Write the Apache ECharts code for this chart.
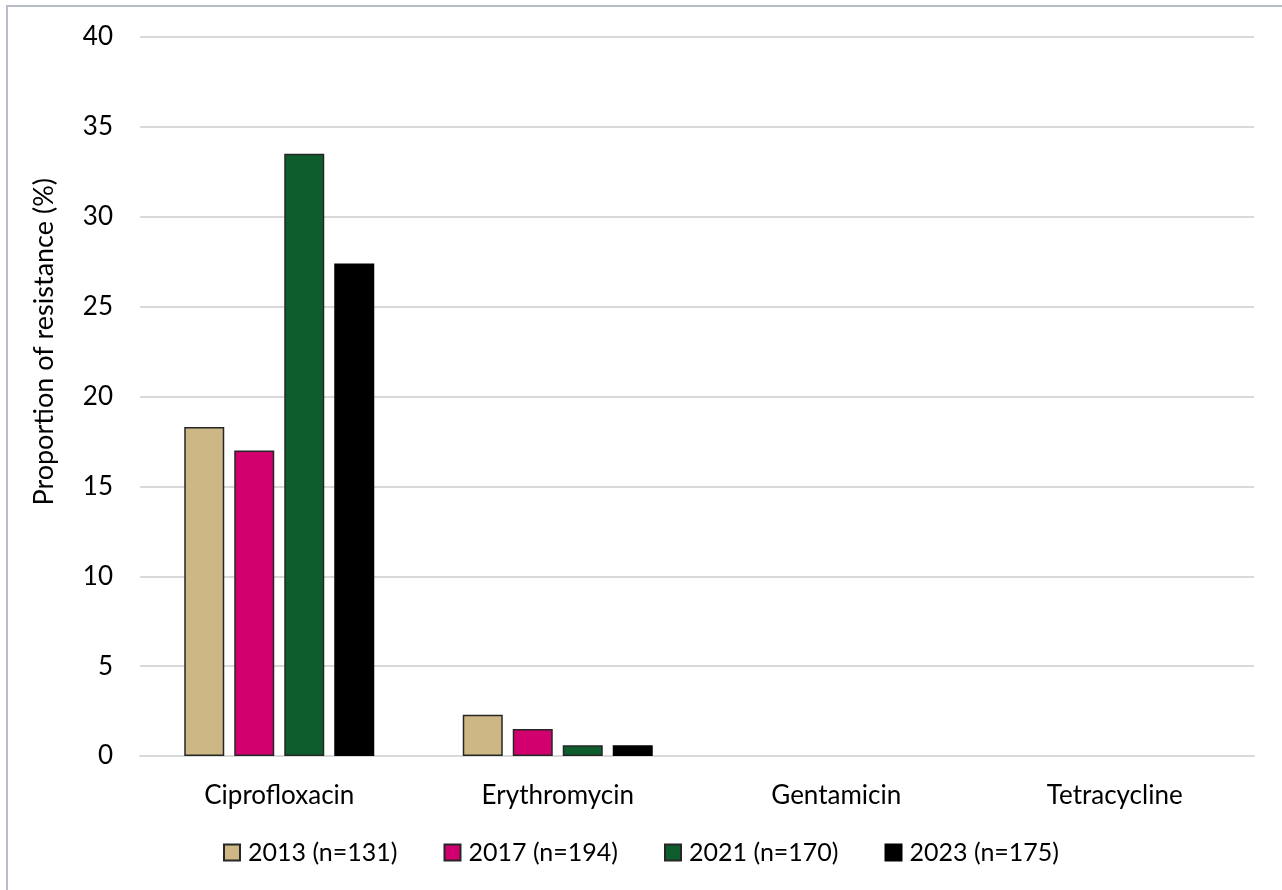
<!DOCTYPE html>
<html>
<head>
<meta charset="utf-8">
<script src="https://cdn.jsdelivr.net/npm/echarts@6/dist/echarts.min.js"></script>
<style>
  html, body { margin: 0; padding: 0; background: #fff; }
  #frame { position: absolute; left: 6px; top: 5px; width: 1276px; height: 885px;
           border-top: 2px solid #b9bdc9; border-left: 2px solid #b9bdc9; box-sizing: border-box; }
  #chart { position: absolute; left: 0; top: 0; width: 1282px; height: 890px; }
</style>
</head>
<body>
<div id="frame"></div>
<div id="chart"></div>
<script>
const categories = ['Ciprofloxacin', 'Erythromycin', 'Gentamicin', 'Tetracycline'];
const seriesNames = ['2013 (n=131)', '2017 (n=194)', '2021 (n=170)', '2023 (n=175)'];
const values2013 = [18.3, 2.3, 0, 0];
const values2017 = [17.0, 1.5, 0, 0];
const values2021 = [33.5, 0.6, 0, 0];
const values2023 = [27.4, 0.6, 0, 0];
const colors = ['#cdb885', '#d2006e', '#0e5e2d', '#000000'];
const allValues = [values2013, values2017, values2021, values2023];

const font = 'Lato, "Open Sans", sans-serif';
const chart = echarts.init(document.getElementById('chart'), null, { renderer: 'canvas' });

// zero-height bars get no outline so they vanish into the axis
const toItems = vals => vals.map(v => (v === 0 ? { value: v, itemStyle: { borderWidth: 0 } } : v));

chart.setOption({
  animation: false,
  backgroundColor: 'transparent',
  grid: { left: 140, right: 28, top: 37, bottom: 134 },
  xAxis: {
    type: 'category',
    data: categories,
    axisLine: { show: true, lineStyle: { color: '#d9d9d9', width: 2 } },
    axisTick: { show: false },
    axisLabel: { color: '#000', fontSize: 26, fontFamily: font, margin: 27 }
  },
  yAxis: {
    type: 'value',
    min: 0, max: 40, interval: 5,
    axisLine: { show: false },
    axisTick: { show: false },
    axisLabel: { color: '#000', fontSize: 26, fontFamily: font, margin: 27 },
    splitLine: { lineStyle: { color: '#d9d9d9', width: 2 } }
  },
  legend: {
    bottom: 20,
    left: 'center',
    itemWidth: 16,
    itemHeight: 16,
    itemGap: 46,
    icon: 'rect',
    textStyle: { color: '#000', fontSize: 25, fontFamily: font, padding: [0, 0, 0, 3] },
    data: seriesNames
  },
  graphic: [{
    type: 'text',
    left: 31,
    top: 178,
    rotation: Math.PI / 2,
    style: {
      text: 'Proportion of resistance (%)',
      fontSize: 27,
      fontFamily: font,
      fill: '#000'
    }
  }],
  series: seriesNames.map((name, i) => ({
    name,
    type: 'bar',
    data: toItems(allValues[i]),
    barWidth: 40,
    barGap: '25%',
    itemStyle: {
      color: colors[i],
      borderColor: i === 3 ? '#000' : '#262626',
      borderWidth: 1.5
    }
  }))
});
</script>
</body>
</html>
